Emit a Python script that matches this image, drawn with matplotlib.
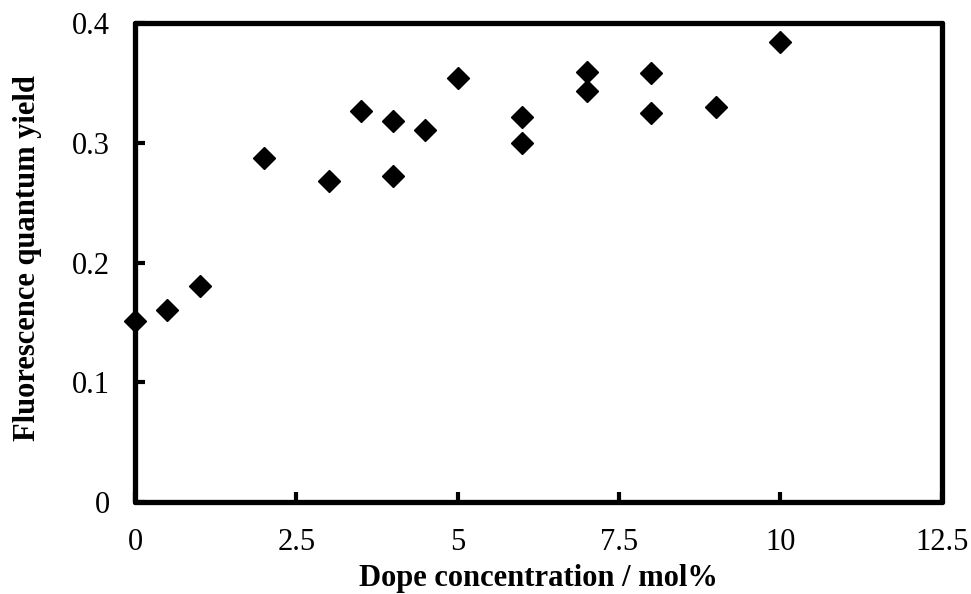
import matplotlib
matplotlib.use('Agg')
import matplotlib.pyplot as plt

# dope concentration (mol%) and fluorescence quantum yield
dope = [0, 0.5, 1, 2, 3, 3.5, 4, 4, 4.5, 5, 6, 6, 7, 7, 8, 8, 9, 10]
qy = [0.151, 0.160, 0.180, 0.287, 0.268, 0.327, 0.318, 0.272, 0.311, 0.354,
      0.300, 0.322, 0.359, 0.343, 0.358, 0.325, 0.330, 0.384]

xticks = [0, 2.5, 5, 7.5, 10, 12.5]
xticklabels = ['0', '2.5', '5', '7.5', '10', '12.5']
yticks = [0, 0.1, 0.2, 0.3, 0.4]
yticklabels = ['0', '0.1', '0.2', '0.3', '0.4']

plt.rcParams['font.family'] = ['Liberation Serif', 'DejaVu Serif']

fig = plt.figure(figsize=(9.71, 5.94), dpi=100)
ax = fig.add_axes([0.139, 0.155, 0.831, 0.806])

ax.plot(dope, qy, linestyle='none', marker='D', markersize=11.5,
        color='black', clip_on=False, zorder=3)

ax.set_xlim(0, 12.5)
ax.set_ylim(0, 0.4)
ax.set_xticks(xticks)
ax.set_xticklabels(xticklabels)
ax.set_yticks(yticks)
ax.set_yticklabels(yticklabels)

for s in ax.spines.values():
    s.set_linewidth(3.8)
    s.set_capstyle('round')
ax.tick_params(direction='in', length=7, width=3, labelsize=22)
ax.tick_params(axis='x', pad=19)
ax.tick_params(axis='y', pad=18)

ax.set_xlabel('Dope concentration / mol%', fontsize=22, fontweight='bold', labelpad=5)
ax.set_ylabel('Fluorescence quantum yield', fontsize=22, fontweight='bold')
ax.yaxis.set_label_coords(-0.115, 0.51)

plt.savefig('out.png', dpi=100)
plt.close()
